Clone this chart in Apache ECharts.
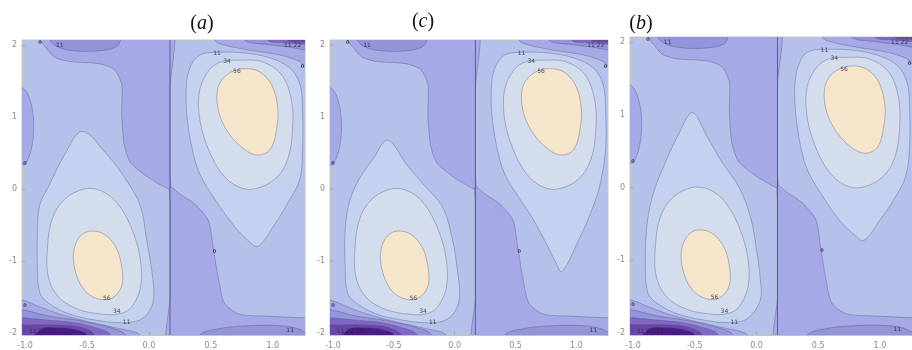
<!DOCTYPE html>
<html>
<head>
<meta charset="utf-8">
<script src="https://cdn.jsdelivr.net/npm/echarts@6/dist/echarts.min.js"></script>
<style>
  html, body { margin: 0; padding: 0; background: #ffffff; }
  #chart { width: 912px; height: 350px; }
</style>
</head>
<body>
<div id="chart"></div>
<script>
// ---- axes -------------------------------------------------------------
const xTicks = [-1, -0.5, 0, 0.5, 1];
const yTicks = [-2, -1, 0, 1, 2];
const xRange = [-1.025, 1.26];
const yRange = [-2.03, 2.07];
const panelTitles = ['a', 'c', 'b'];
const interfaceX = 0.17;           // vertical interface line

// ---- contour levels (fill of the region on the far side of each line) ---
const levelKeys   = [-0.44, -0.33, -0.22, -0.11, 0, 0.11, 0.34, 0.56];
const levelFills  = ['#4b1d84', '#6a46a8', '#8068c2', '#9494da', '#a5a9e6', '#c5d2ef', '#d4ddec', '#f4e5cb'];
const baseFill    = '#b6c1eb';     // between 0 and 0.11

// ---- regions below zero ----------------------------------------------
const lowStripLeft = [[-0.90,2.3],[0.17,2.3],[0.17,1.4],[0.17,0.7],[0.17,0.2],[0.17,0.0],[0.09,0.06],[-0.03,0.19],
  [-0.15,0.37],[-0.20,0.62],[-0.22,1.03],[-0.22,1.45],[-0.28,1.66],[-0.40,1.74],[-0.64,1.77],[-0.76,1.83],[-0.83,1.96],[-0.88,2.07]];
const lowEdgeLeft = [[-1.2,1.41],[-1.025,1.41],[-0.96,1.24],[-0.93,0.90],[-0.95,0.55],[-0.99,0.37],[-1.025,0.33],[-1.2,0.33]];
const lowStripRight = [[0.17,0.03],[0.25,-0.07],[0.37,-0.21],[0.48,-0.44],[0.52,-0.83],[0.56,-1.24],[0.61,-1.59],[0.73,-1.74],
  [0.98,-1.77],[1.22,-1.79],[1.4,-1.81],[1.4,-2.3],[0.17,-2.3],[0.17,-1.5],[0.17,-0.8],[0.17,-0.2]];
const lowCornerTR = [[0.53,2.3],[0.53,2.07],[0.61,2.0],[0.81,1.93],[1.06,1.86],[1.22,1.77],[1.26,1.70],[1.4,1.6],[1.4,2.3]];
const lowCornerBL = [[-1.2,-1.53],[-1.025,-1.545],[-0.88,-1.64],[-0.72,-1.74],[-0.48,-1.85],[-0.23,-1.945],[-0.07,-2.03],[0.0,-2.3],[-1.2,-2.3]];

const low11TL = [[-0.82,2.3],[-0.80,2.07],[-0.73,1.97],[-0.60,1.92],[-0.40,1.92],[-0.27,1.97],[-0.23,2.07],[-0.22,2.3]];
const low11BR = [[0.35,-2.3],[0.41,-2.03],[0.57,-1.94],[0.81,-1.90],[1.06,-1.90],[1.20,-1.94],[1.26,-1.99],[1.4,-2.05],[1.4,-2.3]];
const low11TR = [[0.74,2.3],[0.77,2.07],[0.94,2.01],[1.14,1.97],[1.26,1.93],[1.4,1.9],[1.4,2.3]];
const low11BL = [[-1.2,-1.67],[-1.025,-1.68],[-0.80,-1.77],[-0.56,-1.83],[-0.31,-1.93],[-0.19,-2.03],[-0.17,-2.3],[-1.2,-2.3]];
const low22TR = [[0.93,2.3],[0.96,2.07],[1.12,2.03],[1.26,2.01],[1.4,2.0],[1.4,2.3]];
const low22BL = [[-1.2,-1.78],[-1.025,-1.79],[-0.84,-1.82],[-0.60,-1.86],[-0.40,-1.945],[-0.31,-2.03],[-0.30,-2.3],[-1.2,-2.3]];
const low33TR = [[1.10,2.3],[1.12,2.07],[1.22,2.045],[1.4,2.04],[1.4,2.3]];
const low33BL = [[-1.2,-1.90],[-0.96,-1.89],[-0.76,-1.89],[-0.56,-1.92],[-0.44,-2.03],[-0.43,-2.3],[-1.2,-2.3]];
const low44BL = [[-1.0,-2.3],[-0.88,-1.96],[-0.72,-1.93],[-0.56,-1.97],[-0.50,-2.03],[-0.48,-2.3]];

// ---- regions above zero: upper-right lobe ------------------------------
const outerTR_a = [[0.88,-0.80],[1.02,-0.48],[1.14,-0.14],[1.22,0.14],[1.24,0.55],[1.24,1.10],[1.22,1.45],[1.14,1.68],[0.98,1.82],
  [0.77,1.89],[0.57,1.90],[0.41,1.86],[0.33,1.68],[0.30,1.38],[0.31,0.97],[0.35,0.55],[0.41,0.21],[0.53,-0.14],[0.69,-0.52],[0.81,-0.73]];
const outerTR_c = [[0.88,-1.15],[1.00,-0.78],[1.12,-0.32],[1.19,0.03],[1.24,0.55],[1.24,1.10],[1.22,1.45],[1.14,1.68],[0.98,1.82],
  [0.77,1.89],[0.57,1.90],[0.41,1.86],[0.33,1.68],[0.30,1.38],[0.31,0.97],[0.35,0.55],[0.41,0.21],[0.52,-0.10],[0.63,-0.38],[0.75,-0.75],[0.83,-1.02]];
const outerTR_b = [[0.87,-0.73],[1.00,-0.45],[1.13,-0.12],[1.21,0.16],[1.24,0.55],[1.24,1.10],[1.22,1.45],[1.14,1.68],[0.98,1.82],
  [0.77,1.89],[0.57,1.90],[0.41,1.86],[0.34,1.68],[0.31,1.38],[0.32,0.97],[0.36,0.55],[0.42,0.21],[0.54,-0.13],[0.68,-0.47],[0.80,-0.66]];
const midTR = [[0.72,1.79],[0.91,1.77],[1.07,1.59],[1.15,1.24],[1.16,0.83],[1.12,0.41],[1.02,0.14],[0.85,0.0],[0.72,0.03],
  [0.59,0.21],[0.48,0.55],[0.41,0.97],[0.41,1.38],[0.49,1.66],[0.59,1.77]];
const coreTR = [[0.72,1.66],[0.88,1.64],[0.99,1.45],[1.04,1.13],[1.03,0.83],[0.98,0.55],[0.88,0.47],[0.77,0.55],[0.65,0.76],
  [0.57,1.03],[0.55,1.34],[0.60,1.54]];

// ---- regions above zero: lower-left lobe -------------------------------
const outerBL_a = [[-0.54,0.80],[-0.34,0.48],[-0.19,0.14],[-0.07,-0.23],[-0.02,-0.69],[0.02,-1.10],[0.04,-1.48],[0.01,-1.68],[-0.07,-1.82],
  [-0.23,-1.86],[-0.44,-1.82],[-0.64,-1.74],[-0.80,-1.60],[-0.88,-1.45],[-0.90,-1.10],[-0.90,-0.55],[-0.88,-0.21],[-0.80,0.07],[-0.68,0.48]];
const outerBL_c = [[-0.55,0.68],[-0.40,0.35],[-0.25,0.05],[-0.10,-0.25],[-0.02,-0.69],[0.02,-1.10],[0.04,-1.48],[0.01,-1.68],[-0.07,-1.82],
  [-0.23,-1.86],[-0.44,-1.82],[-0.64,-1.74],[-0.80,-1.60],[-0.88,-1.45],[-0.90,-1.10],[-0.90,-0.55],[-0.86,-0.15],[-0.78,0.15],[-0.67,0.42]];
const outerBL_b = [[-0.52,1.03],[-0.40,0.70],[-0.28,0.35],[-0.14,0.0],[-0.05,-0.40],[0.0,-0.85],[0.03,-1.25],[0.03,-1.55],[-0.07,-1.80],
  [-0.23,-1.86],[-0.44,-1.82],[-0.64,-1.74],[-0.80,-1.60],[-0.88,-1.45],[-0.90,-1.10],[-0.89,-0.55],[-0.84,-0.10],[-0.75,0.30],[-0.64,0.70]];
const midBL = [[-0.38,-1.74],[-0.56,-1.68],[-0.72,-1.52],[-0.81,-1.24],[-0.82,-0.83],[-0.78,-0.41],[-0.68,-0.14],[-0.52,0.0],[-0.38,-0.03],
  [-0.25,-0.21],[-0.14,-0.55],[-0.07,-0.97],[-0.07,-1.38],[-0.15,-1.66],[-0.25,-1.74]];
const coreBL = [[-0.49,-0.59],[-0.37,-0.62],[-0.27,-0.80],[-0.22,-1.08],[-0.22,-1.35],[-0.30,-1.52],[-0.41,-1.53],[-0.52,-1.41],
  [-0.59,-1.17],[-0.61,-0.90],[-0.57,-0.69]];

// ---- contour labels ----------------------------------------------------
const labelsCommon = [
  [-0.72, 2.00, '11'], [0.55, 1.89, '11'], [0.63, 1.77, '34'], [0.71, 1.63, '56'], [1.16, 2.00, '11 22'],
  [-0.34, -1.52, '56'], [-0.26, -1.70, '34'], [-0.18, -1.86, '11'], [1.14, -1.96, '11'], [-0.86, -1.98, '11 22 33'],
  [-0.88, 2.03, '0'], [-1.0, 0.35, '0'], [-1.0, -1.62, '0'], [0.53, -0.87, '0'], [1.24, 1.70, '0']
];

// ---- panels --------------------------------------------------------------
const panelBoxes = [
  { left: 22,  top: 40, width: 283, height: 297 },
  { left: 330, top: 40, width: 278, height: 297 },
  { left: 630, top: 37, width: 283, height: 299 }
];
const outerTR = [outerTR_a, outerTR_c, outerTR_b];
const outerBL = [outerBL_a, outerBL_c, outerBL_b];

function panelShapes(p) {
  return [
    { level: 0, pts: lowStripLeft, smooth: 0.25 },
    { level: 0, pts: lowEdgeLeft },
    { level: 0, pts: lowStripRight, smooth: 0.25 },
    { level: 0, pts: lowCornerTR },
    { level: 0, pts: lowCornerBL },
    { level: -0.11, pts: low11TL },
    { level: -0.11, pts: low11BR },
    { level: -0.11, pts: low11TR },
    { level: -0.11, pts: low11BL },
    { level: -0.22, pts: low22TR },
    { level: -0.22, pts: low22BL },
    { level: -0.33, pts: low33TR },
    { level: -0.33, pts: low33BL },
    { level: -0.44, pts: low44BL },
    { level: 0.11, pts: outerTR[p] },
    { level: 0.11, pts: outerBL[p] },
    { level: 0.34, pts: midTR },
    { level: 0.34, pts: midBL },
    { level: 0.56, pts: coreTR },
    { level: 0.56, pts: coreBL }
  ];
}

function fillFor(level) {
  const i = levelKeys.indexOf(level);
  return i >= 0 ? levelFills[i] : baseFill;
}

const grids = [], xAxes = [], yAxes = [], series = [], graphics = [];

panelBoxes.forEach((box, p) => {
  grids.push(Object.assign({
    show: true, backgroundColor: baseFill, borderColor: '#c4c4c4', borderWidth: 1
  }, box));

  xAxes.push({
    gridIndex: p, type: 'value', min: xRange[0], max: xRange[1], position: 'bottom',
    axisLine: { show: true, onZero: false, lineStyle: { color: '#c4c4c4' } },
    axisTick: { show: true, inside: true, length: 3, customValues: xTicks, lineStyle: { color: '#a8a8a8' } },
    axisLabel: { customValues: xTicks, formatter: v => v.toFixed(1), fontSize: 8, color: '#8a8a8a', margin: 7, fontFamily: 'DejaVu Sans' },
    splitLine: { show: false }
  });
  yAxes.push({
    gridIndex: p, type: 'value', min: yRange[0], max: yRange[1], position: 'left',
    axisLine: { show: true, onZero: false, lineStyle: { color: '#c4c4c4' } },
    axisTick: { show: true, inside: true, length: 3, customValues: yTicks, lineStyle: { color: '#a8a8a8' } },
    axisLabel: { customValues: yTicks, formatter: v => String(v), fontSize: 8, color: '#8a8a8a', margin: 5, fontFamily: 'DejaVu Sans' },
    splitLine: { show: false }
  });

  const shapes = panelShapes(p);
  series.push({
    type: 'custom', xAxisIndex: p, yAxisIndex: p, clip: true, silent: true, z: 2,
    data: shapes.map(() => [0, 0]),
    renderItem: (params, api) => {
      const s = shapes[params.dataIndex];
      return {
        type: 'polygon',
        shape: { points: s.pts.map(pt => api.coord(pt)), smooth: s.smooth != null ? s.smooth : 0.35 },
        style: { fill: fillFor(s.level), stroke: 'rgba(70,70,105,0.5)', lineWidth: 0.7 }
      };
    }
  });

  series.push({
    type: 'line', xAxisIndex: p, yAxisIndex: p, z: 3, silent: true,
    symbol: 'none', data: [[interfaceX, yRange[0]], [interfaceX, yRange[1]]],
    lineStyle: { color: 'rgba(78,80,140,0.85)', width: 1 }
  });

  series.push({
    type: 'custom', xAxisIndex: p, yAxisIndex: p, clip: true, silent: true, z: 4,
    data: labelsCommon.map(l => [l[0], l[1]]),
    renderItem: (params, api) => {
      const l = labelsCommon[params.dataIndex];
      const c = api.coord([l[0], l[1]]);
      const isZero = l[2] === '0';
      return {
        type: 'text', x: c[0], y: c[1],
        style: {
          text: l[2], fontSize: isZero ? 5 : 6, fontWeight: isZero ? 'bold' : 'normal',
          fill: 'rgba(40,40,60,0.85)', align: 'center', verticalAlign: 'middle', fontFamily: 'DejaVu Sans'
        }
      };
    }
  });
});

// panel titles
const titleCentres = [[202, 24], [423, 22], [641, 24]];
panelTitles.forEach((t, i) => {
  graphics.push({
    type: 'text', x: titleCentres[i][0], y: titleCentres[i][1],
    style: {
      text: '{p|(}{i|' + t + '}{p|)}', align: 'center', verticalAlign: 'middle',
      rich: {
        p: { fontFamily: 'Liberation Serif', fontSize: 20, fill: '#111' },
        i: { fontFamily: 'Liberation Serif', fontStyle: 'italic', fontSize: 20, fill: '#111' }
      }
    }
  });
});

const chart = echarts.init(document.getElementById('chart'), null, { renderer: 'canvas' });
chart.setOption({
  animation: false,
  backgroundColor: '#ffffff',
  grid: grids, xAxis: xAxes, yAxis: yAxes, series: series, graphic: graphics
});
</script>
</body>
</html>
